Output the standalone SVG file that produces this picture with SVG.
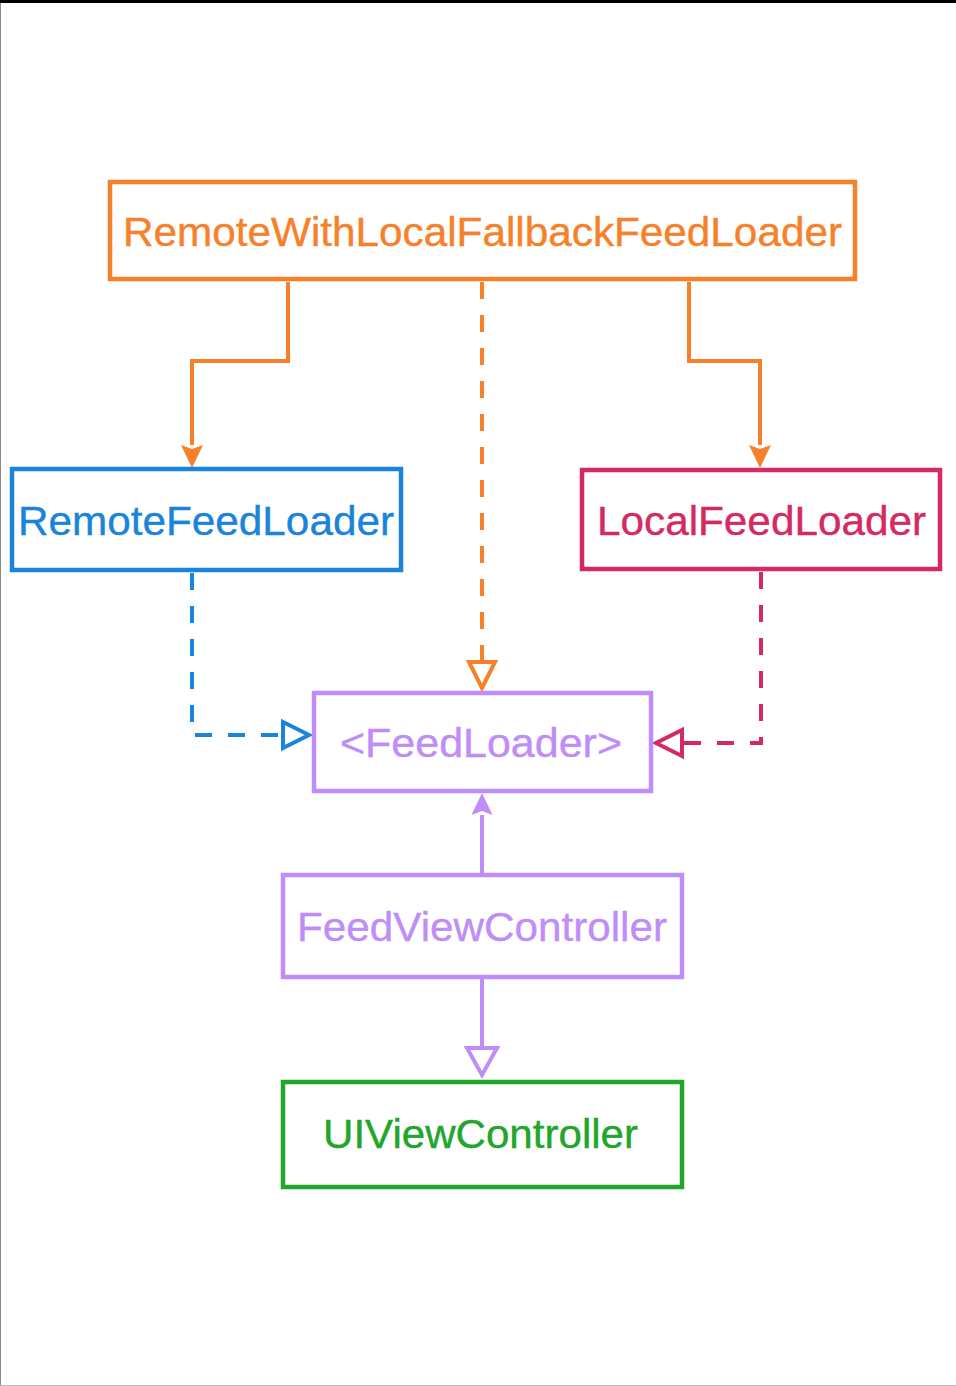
<svg xmlns="http://www.w3.org/2000/svg" width="956" height="1386" viewBox="0 0 956 1386">
<style>
  .box { fill: #ffffff; stroke-width: 4.5; }
  .lbl { font-family: "Liberation Sans", Arial, sans-serif; font-size: 41px; text-anchor: middle; stroke-width: 0.4; }
  .conn { fill: none; stroke-width: 4; }
  .dash { stroke-dasharray: 17 16; }
  .orange { stroke: #F7812A; }
  .blue { stroke: #1A84DA; }
  .crimson { stroke: #D42A62; }
  .purple { stroke: #BF8DF7; }
  .green { stroke: #21A52B; }
</style>
<defs>
  <marker id="fillOrange" markerUnits="userSpaceOnUse" orient="auto" refX="0" refY="0" markerWidth="40" markerHeight="40" overflow="visible">
    <path d="M0,-11 L23,0 L0,11 L4,0 z" fill="#F7812A" stroke="none"/>
  </marker>
  <marker id="fillPurple" markerUnits="userSpaceOnUse" orient="auto" refX="0" refY="0" markerWidth="40" markerHeight="40" overflow="visible">
    <path d="M0,-10.5 L22,0 L0,10.5 L4,0 z" fill="#BF8DF7" stroke="none"/>
  </marker>
  <marker id="openOrange" markerUnits="userSpaceOnUse" orient="auto" refX="0" refY="0" markerWidth="40" markerHeight="40" overflow="visible">
    <path d="M0,-13 L26,0 L0,13 z" fill="#ffffff" stroke="#F7812A" stroke-width="4" stroke-dasharray="none"/>
  </marker>
  <marker id="openBlue" markerUnits="userSpaceOnUse" orient="auto" refX="0" refY="0" markerWidth="40" markerHeight="40" overflow="visible">
    <path d="M0,-13 L26,0 L0,13 z" fill="#ffffff" stroke="#1A84DA" stroke-width="4" stroke-dasharray="none"/>
  </marker>
  <marker id="openCrimson" markerUnits="userSpaceOnUse" orient="auto" refX="0" refY="0" markerWidth="40" markerHeight="40" overflow="visible">
    <path d="M0,-13 L26,0 L0,13 z" fill="#ffffff" stroke="#D42A62" stroke-width="4" stroke-dasharray="none"/>
  </marker>
  <marker id="openPurple" markerUnits="userSpaceOnUse" orient="auto" refX="0" refY="0" markerWidth="40" markerHeight="40" overflow="visible">
    <path d="M0,-15 L27,0 L0,15 z" fill="#ffffff" stroke="#BF8DF7" stroke-width="4" stroke-dasharray="none"/>
  </marker>
</defs>
<rect x="0" y="0" width="956" height="1386" fill="#ffffff"/>
<rect x="0" y="0" width="956" height="3" fill="#000000"/>
<rect x="0" y="3" width="1" height="1383" fill="#8a8a8a"/>
<rect x="0" y="1385" width="956" height="1" fill="#b8b8c0"/>

<g id="connectors">
  <path class="conn orange" d="M288,282 V361 H192 V445" marker-end="url(#fillOrange)"/>
  <path class="conn orange" d="M689,282 V361 H760 V445" marker-end="url(#fillOrange)"/>
  <path class="conn orange dash" d="M482,282 V662" marker-end="url(#openOrange)"/>
  <path class="conn blue dash" d="M192,573 V735 H283" marker-end="url(#openBlue)"/>
  <path class="conn crimson dash" d="M761,572 V743 H682" marker-end="url(#openCrimson)"/>
  <path class="conn purple" d="M482,873 V815" marker-end="url(#fillPurple)"/>
  <path class="conn purple" d="M482,978 V1048" marker-end="url(#openPurple)"/>
</g>

<g id="node-remote-with-local-fallback">
  <rect class="box orange" x="110" y="182" width="745" height="97"/>
  <text class="lbl" x="482.5" y="246" fill="#F7812A" stroke="#F7812A" textLength="719" lengthAdjust="spacingAndGlyphs">RemoteWithLocalFallbackFeedLoader</text>
</g>
<g id="node-remote-feed-loader">
  <rect class="box blue" x="12" y="469" width="389" height="101"/>
  <text class="lbl" x="206" y="535" fill="#1A84DA" stroke="#1A84DA" textLength="376" lengthAdjust="spacingAndGlyphs">RemoteFeedLoader</text>
</g>
<g id="node-local-feed-loader">
  <rect class="box crimson" x="582" y="470" width="358" height="99"/>
  <text class="lbl" x="761.5" y="535" fill="#D42A62" stroke="#D42A62" textLength="329" lengthAdjust="spacingAndGlyphs">LocalFeedLoader</text>
</g>
<g id="node-feed-loader">
  <rect class="box purple" x="314" y="693" width="337" height="98"/>
  <text class="lbl" x="481" y="757" fill="#BF8DF7" stroke="#BF8DF7" textLength="282" lengthAdjust="spacingAndGlyphs">&lt;FeedLoader&gt;</text>
</g>
<g id="node-feed-view-controller">
  <rect class="box purple" x="283" y="875" width="399" height="102"/>
  <text class="lbl" x="482" y="941" fill="#BF8DF7" stroke="#BF8DF7" textLength="370" lengthAdjust="spacingAndGlyphs">FeedViewController</text>
</g>
<g id="node-ui-view-controller">
  <rect class="box green" x="283" y="1082" width="399" height="105"/>
  <text class="lbl" x="480.5" y="1148" fill="#21A52B" stroke="#21A52B" stroke-width="0.8" textLength="315" lengthAdjust="spacingAndGlyphs">UIViewController</text>
</g>
</svg>
